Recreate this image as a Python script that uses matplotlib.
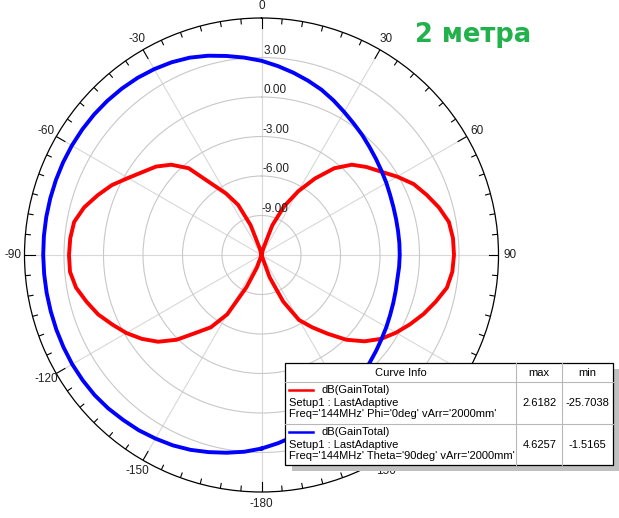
import numpy as np
import matplotlib
matplotlib.use("Agg")
import matplotlib.pyplot as plt
from matplotlib.patches import Rectangle
from matplotlib.lines import Line2D

plt.rcParams['font.family'] = ['Liberation Sans', 'DejaVu Sans']

W, H = 619, 518

# E-plane (Phi=0deg), dB vs angle, -180..175 step 5
red_ang = np.arange(-180, 180, 5)
red_db = [-25.7, -20.0, -16.0, -13.0, -11.0, -9.3, -6.8, -5.3, -4.3, -2.9,
          -1.75, -0.9, -0.15, 0.5, 1.2, 1.75, 2.3, 2.6, 2.62, 2.58,
          2.45, 1.95, 1.25, 0.55, -0.3, -1.0, -1.55, -2.3, -3.4, -5.4,
          -6.6, -7.8, -9.6, -11.5, -14.5, -19.0,
          -25.7, -19.0, -14.5, -11.5, -9.6, -7.9, -6.4, -4.9, -3.4, -2.3,
          -1.6, -0.95, -0.1, 0.75, 1.35, 1.95, 2.45, 2.6, 2.62, 2.55,
          2.3, 1.7, 1.1, 0.45, -0.2, -0.9, -1.8, -2.9, -4.2, -5.3,
          -6.3, -8.1, -10.2, -12.5, -15.5, -20.0]

# H-plane (Theta=90deg), dB vs angle, -180..175 step 5
blue_ang = np.arange(-180, 180, 5)
blue_db = [2.7, 3.0, 3.25, 3.5, 3.75, 3.95, 4.1, 4.25, 4.35, 4.47,
           4.55, 4.58, 4.6, 4.59, 4.58, 4.57, 4.57, 4.57, 4.58, 4.59,
           4.6, 4.61, 4.62, 4.63, 4.63, 4.62, 4.6, 4.56, 4.5, 4.42,
           4.3, 4.15, 3.95, 3.67, 3.35, 3.05,
           2.75, 2.4, 2.05, 1.7, 1.35, 0.95, 0.55, 0.2, -0.1, -0.4,
           -0.65, -0.87, -1.05, -1.22, -1.34, -1.42, -1.47, -1.49, -1.5, -1.51,
           -1.52, -1.45, -1.35, -1.22, -1.05, -0.87, -0.65, -0.4, -0.1, 0.2,
           0.55, 0.9, 1.25, 1.62, 2.0, 2.35]

r_ticks = [-9, -6, -3, 0, 3]
r_labels = ['-9.00', '-6.00', '-3.00', '0.00', '3.00']
ang_ticks = [0, 30, 60, 90, 120, 150, 180, -150, -120, -90, -60, -30]
ang_labels = ['0', '30', '60', '90', '120', '150', '-180', '-150', '-120', '-90', '-60', '-30']

legend_names = ['dB(GainTotal)', 'dB(GainTotal)']
legend_setup = ['Setup1 : LastAdaptive', 'Setup1 : LastAdaptive']
legend_freq = ["Freq='144MHz' Phi='0deg' vArr='2000mm'",
               "Freq='144MHz' Theta='90deg' vArr='2000mm'"]
legend_max = ['2.6182', '4.6257']
legend_min = ['-25.7038', '-1.5165']
colors = ['#ff0000', '#0000ff']

RMIN, RMAX = -12, 6

fig = plt.figure(figsize=(W / 100, H / 100), dpi=100)
cx, cy, R = 261.5, 255, 237
ax = fig.add_axes([(cx - R) / W, (H - cy - R) / H, 2 * R / W, 2 * R / H],
                  projection='polar')
ax.set_theta_zero_location('N')
ax.set_theta_direction(-1)
px = (RMAX - RMIN) / R  # dB per pixel


def rad(a):
    return np.deg2rad(np.mod(a, 360))


def closed(ang, vals):
    t = np.unwrap(np.deg2rad(np.append(ang, ang[0] + 360)))
    r = np.clip(np.append(vals, vals[0]), RMIN, None)
    return t, r


t, r = closed(red_ang, red_db)
ax.plot(t, r, color=colors[0], lw=2.8, solid_joinstyle='round')
t, r = closed(blue_ang, blue_db)
ax.plot(t, r, color=colors[1], lw=2.8, solid_joinstyle='round')

ax.set_yticks(r_ticks)
ax.set_yticklabels([])
ax.set_xticks(rad(np.array(ang_ticks)))
ax.set_xticklabels([])
ax.tick_params(axis='x', length=0)
ax.grid(True, which='major', axis='y', color='#c8c8c8', lw=0.8)
ax.grid(True, which='major', axis='x', color='#d8d8d8', lw=0.8)
ax.spines['polar'].set_color('black')
ax.spines['polar'].set_linewidth(0.9)

# tick marks on the outer ring: every 5 deg, longer every 30 deg
for a in range(0, 360, 5):
    ln = 10 if a % 30 == 0 else 5
    ax.plot([np.deg2rad(a)] * 2, [RMAX - ln * px, RMAX], color='black', lw=0.8)

ax.set_thetalim(0, 2 * np.pi)
ax.set_rlim(RMIN, RMAX)

for v, s in zip(r_ticks, r_labels):
    ax.text(0.012, v + 0.05, s, ha='left', va='bottom', fontsize=8.5, color='#202020')

for a, s in zip(ang_ticks, ang_labels):
    ax.text(rad(a), RMAX + 0.9, s, ha='center', va='center', fontsize=8.5,
            color='#202020', clip_on=False)


# legend table ("Curve Info") in pixel coordinates
def fx(x):
    return x / W


def fy(y):
    return 1 - y / H


x0, y0, x1, y1 = 284.5, 362.5, 612.5, 464.5
fig.add_artist(Rectangle((fx(x0 + 7), fy(y1 + 6)), (x1 - x0) / W, (y1 - y0) / H,
                         transform=fig.transFigure, facecolor='#c0c0c0', edgecolor='none', zorder=5))
fig.add_artist(Rectangle((fx(x0), fy(y1)), (x1 - x0) / W, (y1 - y0) / H,
                         transform=fig.transFigure, facecolor='white', edgecolor='black', lw=0.9, zorder=6))
for yy in [381.7, 424]:
    fig.add_artist(Line2D([fx(x0), fx(x1)], [fy(yy), fy(yy)], color='#b8b8b8', lw=0.8, zorder=7))
for xx in [516, 561.7]:
    fig.add_artist(Line2D([fx(xx), fx(xx)], [fy(y0), fy(y1)], color='#b8b8b8', lw=0.8, zorder=7))

fs = 8
fig.text(fx(401), fy(372.7), 'Curve Info', ha='center', va='center', fontsize=fs, zorder=8)
fig.text(fx(539.3), fy(372.7), 'max', ha='center', va='center', fontsize=fs, zorder=8)
fig.text(fx(587.3), fy(372.7), 'min', ha='center', va='center', fontsize=fs, zorder=8)
row_y = [390, 432]
for i in range(2):
    ry = row_y[i]
    fig.add_artist(Line2D([fx(289), fx(312.7)], [fy(ry), fy(ry)], color=colors[i], lw=1.8, zorder=8))
    fig.text(fx(321.7), fy(ry), legend_names[i], ha='left', va='center', fontsize=fs, zorder=8)
    fig.text(fx(289.3), fy(ry + 12.5), legend_setup[i], ha='left', va='center', fontsize=fs, zorder=8)
    fig.text(fx(289.3), fy(ry + 24), legend_freq[i], ha='left', va='center', fontsize=fs, zorder=8)
    fig.text(fx(539.3), fy(ry + 12.5), legend_max[i], ha='center', va='center', fontsize=fs, zorder=8)
    fig.text(fx(587.3), fy(ry + 12.5), legend_min[i], ha='center', va='center', fontsize=fs, zorder=8)

fig.text(fx(473), fy(35), '2 метра', ha='center', va='center', fontsize=18.5,
         fontweight='bold', family='DejaVu Sans', color='#22b14c', zorder=8)

fig.savefig('out.png', dpi=100, facecolor='white')
